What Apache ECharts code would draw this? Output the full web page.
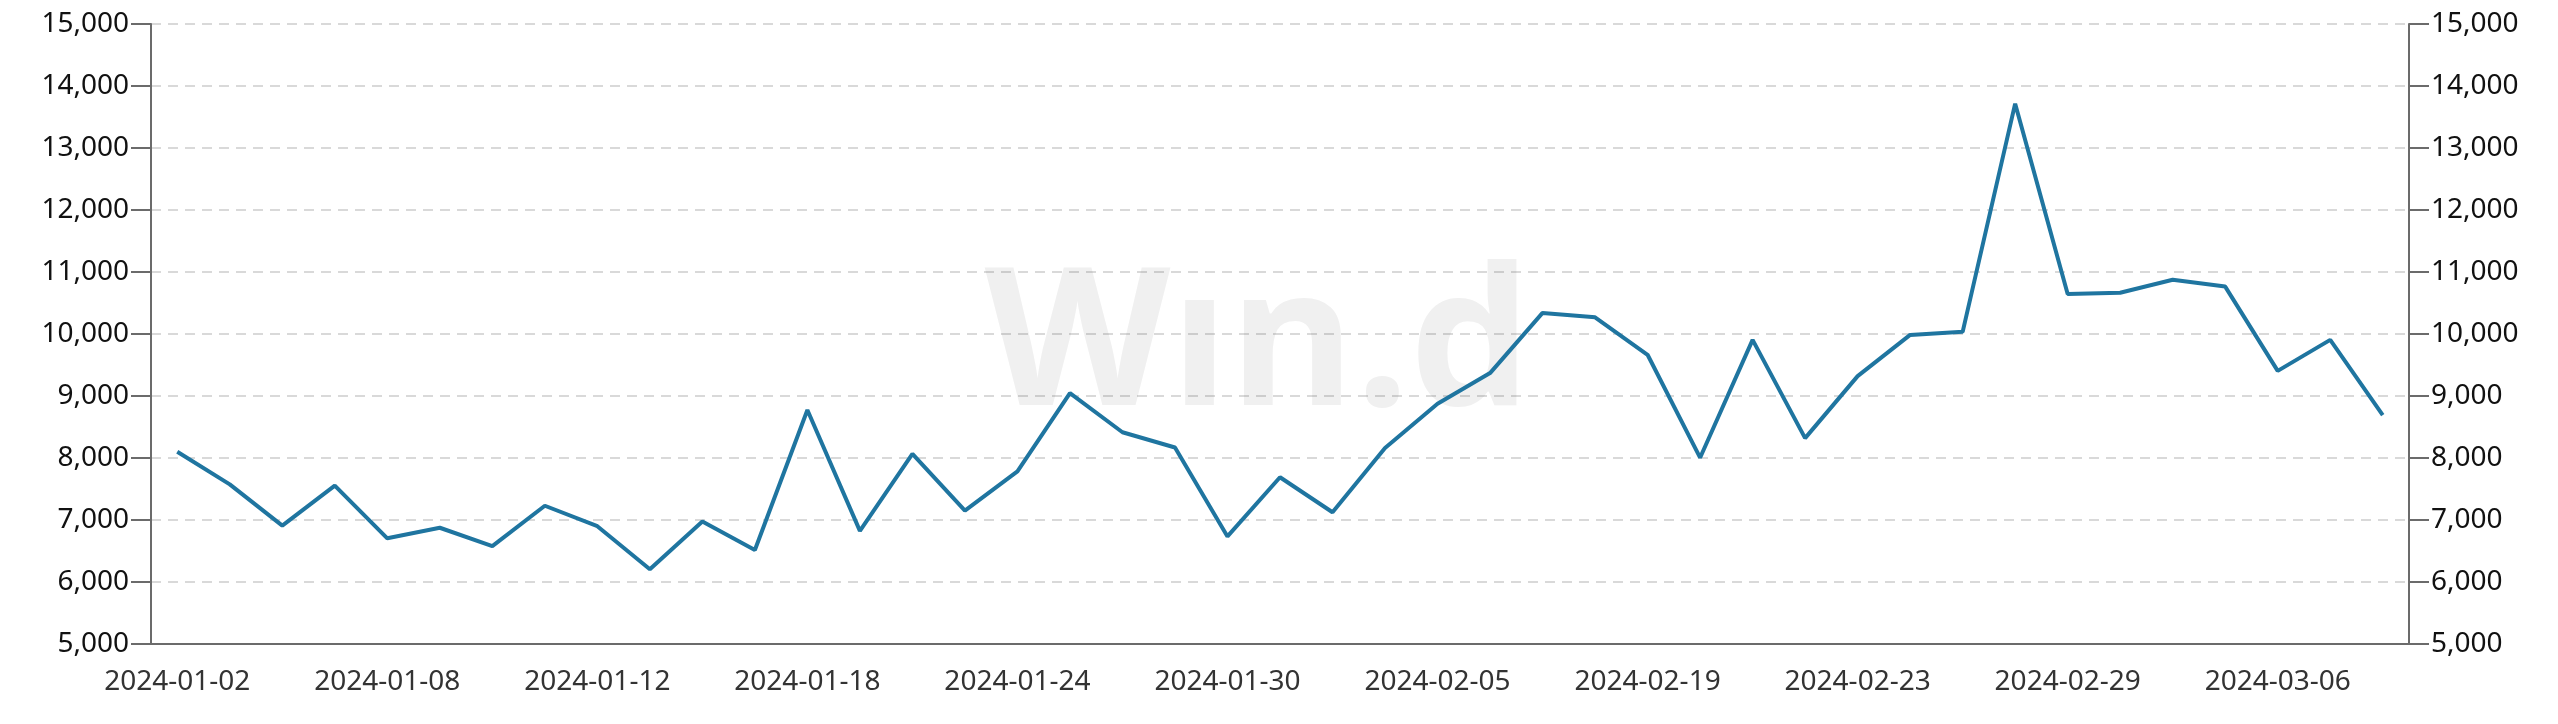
<!DOCTYPE html>
<html>
<head>
<meta charset="utf-8">
<script src="https://cdn.jsdelivr.net/npm/echarts@6/dist/echarts.min.js"></script>
<style>
html,body{margin:0;padding:0;background:#fff;}
#chart{width:2558px;height:724px;}
</style>
</head>
<body>
<div id="chart"></div>
<script>
const categories = ['2024-01-02','2024-01-03','2024-01-04','2024-01-05','2024-01-08','2024-01-09','2024-01-10','2024-01-11','2024-01-12','2024-01-15','2024-01-16','2024-01-17','2024-01-18','2024-01-19','2024-01-22','2024-01-23','2024-01-24','2024-01-25','2024-01-26','2024-01-29','2024-01-30','2024-01-31','2024-02-01','2024-02-02','2024-02-05','2024-02-06','2024-02-07','2024-02-08','2024-02-19','2024-02-20','2024-02-21','2024-02-22','2024-02-23','2024-02-26','2024-02-27','2024-02-28','2024-02-29','2024-03-01','2024-03-04','2024-03-05','2024-03-06','2024-03-07','2024-03-08'];
const values = [8100,7575,6910,7555,6705,6875,6580,7230,6900,6205,6975,6515,8775,6825,8065,7150,7785,9045,8415,8170,6735,7690,7125,8160,8875,9370,10340,10270,9665,8005,9905,8320,9320,9985,10035,13715,10645,10665,10875,10765,9405,9905,8690];
const yMin = 5000, yMax = 15000, yStep = 1000;
const watermark = 'W\u0131n.d';

const chart = echarts.init(document.getElementById('chart'));
const fmt = v => v.toLocaleString('en-US');
const axisCommon = {
  type: 'value', min: yMin, max: yMax, interval: yStep,
  axisLine: {show: true, lineStyle: {color: '#6b6b6b', width: 2}},
  axisTick: {show: true, length: 20, lineStyle: {color: '#6b6b6b', width: 2}},
};
chart.setOption({
  animation: false,
  backgroundColor: '#fff',
  textStyle: {fontFamily: 'Noto Sans'},
  graphic: [{
    type: 'text', z: -10, x: 1258, y: 350,
    style: {text: watermark, fontSize: 192, fontWeight: 'bold', fontFamily: 'Open Sans',
      fill: '#f0f0f0', textAlign: 'center', textVerticalAlign: 'middle'}
  }],
  grid: {left: 151, right: 149, top: 24, bottom: 80, containLabel: false},
  xAxis: {
    type: 'category', data: categories, boundaryGap: true,
    axisLine: {lineStyle: {color: '#6b6b6b', width: 2}},
    axisTick: {interval: 3, alignWithLabel: true, length: 20, lineStyle: {color: '#6b6b6b', width: 2}},
    axisLabel: {interval: 3, margin: 24, fontSize: 28, color: '#333', fontFamily: 'Noto Sans'}
  },
  yAxis: [
    Object.assign({}, axisCommon, {
      position: 'left',
      splitLine: {show: true, lineStyle: {color: 'rgba(0,0,0,0.15)', width: 2, type: [10, 7]}},
      axisLabel: {margin: 22, fontSize: 28, color: '#111', fontFamily: 'Noto Sans', formatter: fmt}
    }),
    Object.assign({}, axisCommon, {
      position: 'right',
      splitLine: {show: false},
      axisLabel: {margin: 22, fontSize: 28, color: '#111', fontFamily: 'Noto Sans', formatter: fmt}
    })
  ],
  series: [{
    type: 'line', data: values, yAxisIndex: 0, symbol: 'none', smooth: false,
    lineStyle: {color: '#1f75a0', width: 4}
  }]
});
</script>
</body>
</html>
